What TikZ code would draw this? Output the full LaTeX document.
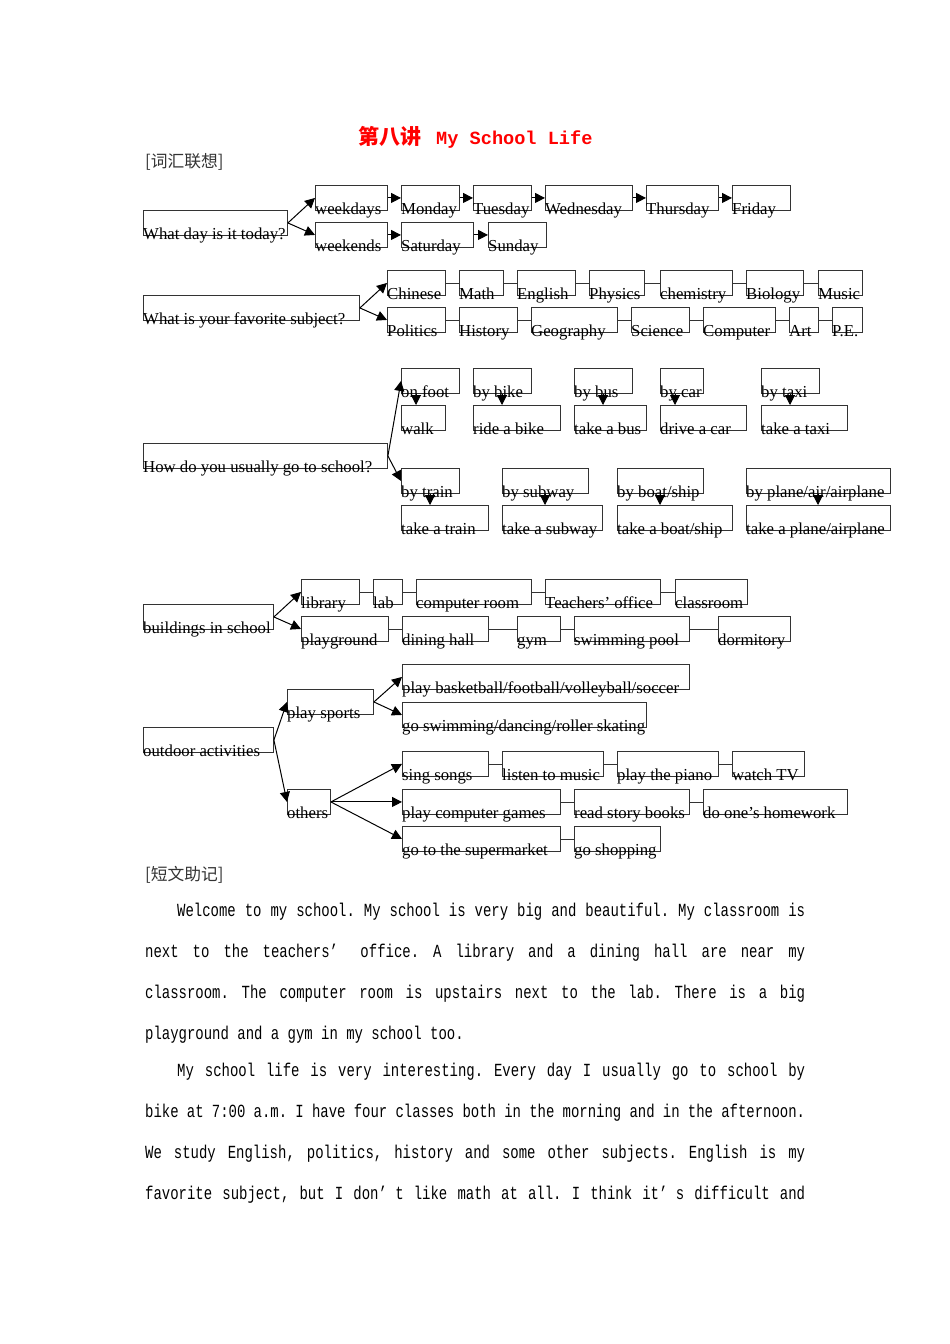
\documentclass[tikz,border=0pt]{standalone}
\usepackage{fontspec}
\setmainfont{Liberation Serif}
\newfontfamily\cjkfont{Noto Sans CJK SC}
\newfontfamily\titlemono{Liberation Mono}
\newfontfamily\paramono[FakeStretch=0.755]{Liberation Mono}
\usepackage{tikz}
\usetikzlibrary{arrows.meta}
\definecolor{titlered}{HTML}{FF0000}
\definecolor{boxline}{HTML}{333333}
\newcommand\boxfont{\fontsize{16.76}{20}\selectfont}
\newcommand\parafont{\paramono\fontsize{18.5}{22}\selectfont\frenchspacing\spaceskip=8.38pt plus 1fil minus 3pt}

\begin{document}
\begin{tikzpicture}[x=1pt, y=-1pt,
    wbox/.style={draw=boxline, line width=0.9pt, anchor=north west, inner sep=0pt, minimum height=25pt, minimum width=#1pt},
    lbl/.style={anchor=base west, inner sep=0pt, yshift=-4pt, font=\boxfont},
    wd/.style 2 args={wbox=#1, label={[lbl]south west:#2}},
    arr/.style={-{Triangle[length=10pt, width=10pt]}, line width=1pt},
    link/.style={draw=boxline, line width=0.9pt},
    heading/.style={anchor=base west, inner sep=0pt, font=\cjkfont\fontsize{16.76}{20}\selectfont, text=black!80},
    para/.style={anchor=base west, inner sep=0pt, font=\parafont}
]
    \useasboundingbox (0,0) rectangle (950,1344);

    % title and heading
    \node[anchor=base west, inner sep=0pt, text=titlered, font=\cjkfont\bfseries\fontsize{21}{24}\selectfont] (titlecn) at (358,144) {第八讲};
    \node[anchor=base west, inner sep=0pt, text=titlered, font=\titlemono\bfseries\fontsize{18.6}{22}\selectfont] (titleen) at (436,144) {My School Life};
    \node[heading] (vocab) at (145,167) {[词汇联想]};

    % days
    \node[wd={144}{What day is it today?}] (qday) at (143,210) {};
    \node[wd={72}{weekdays}] (weekdays) at (315,185) {};
    \node[wd={58}{Monday}] (mon) at (401,185) {};
    \node[wd={58}{Tuesday}] (tue) at (473,185) {};
    \node[wd={87}{Wednesday}] (wed) at (545,185) {};
    \node[wd={72}{Thursday}] (thu) at (646,185) {};
    \node[wd={58}{Friday}] (fri) at (732,185) {};
    \node[wd={72}{weekends}] (weekends) at (315,222) {};
    \node[wd={72}{Saturday}] (sat) at (401,222) {};
    \node[wd={58}{Sunday}] (sun) at (488,222) {};

    \draw[arr] (qday.east) -- (weekdays.west);
    \draw[arr] (qday.east) -- (weekends.west);
    \foreach \a/\b in {weekdays/mon, mon/tue, tue/wed, wed/thu, thu/fri, weekends/sat, sat/sun}
        \draw[arr] (\a) -- (\b);

    % subjects
    \node[wd={216}{What is your favorite subject?}] (qsubj) at (143,295) {};
    \node[wd={58}{Chinese}] (chinese) at (387,270) {};
    \node[wd={44}{Math}] (math) at (459,270) {};
    \node[wd={58}{English}] (english) at (517,270) {};
    \node[wd={55}{Physics}] (physics) at (589,270) {};
    \node[wd={72}{chemistry}] (chemistry) at (660,270) {};
    \node[wd={57}{Biology}] (biology) at (746,270) {};
    \node[wd={44}{Music}] (music) at (818,270) {};
    \node[wd={58}{Politics}] (politics) at (387,307) {};
    \node[wd={58}{History}] (history) at (459,307) {};
    \node[wd={86}{Geography}] (geography) at (531,307) {};
    \node[wd={58}{Science}] (science) at (631,307) {};
    \node[wd={72}{Computer}] (computer) at (703,307) {};
    \node[wd={29}{Art}] (art) at (789,307) {};
    \node[wd={30}{P.E.}] (pe) at (832,307) {};

    \draw[arr] (qsubj.east) -- (chinese.west);
    \draw[arr] (qsubj.east) -- (politics.west);
    \foreach \a/\b in {chinese/math, math/english, english/physics, physics/chemistry, chemistry/biology, biology/music,
                       politics/history, history/geography, geography/science, science/computer, computer/art, art/pe}
        \draw[link] (\a) -- (\b);

    % transport
    \node[wd={244}{How do you usually go to school?}] (qhow) at (143,443) {};
    \node[wd={58}{on foot}] (onfoot) at (401,368) {};
    \node[wd={44}{walk}] (walk) at (401,405) {};
    \node[wd={58}{by bike}] (bybike) at (473,368) {};
    \node[wd={87}{ride a bike}] (ridebike) at (473,405) {};
    \node[wd={58}{by bus}] (bybus) at (574,368) {};
    \node[wd={72}{take a bus}] (takebus) at (574,405) {};
    \node[wd={43}{by car}] (bycar) at (660,368) {};
    \node[wd={86}{drive a car}] (drivecar) at (660,405) {};
    \node[wd={58}{by taxi}] (bytaxi) at (761,368) {};
    \node[wd={86}{take a taxi}] (taketaxi) at (761,405) {};
    \node[wd={58}{by train}] (bytrain) at (401,468) {};
    \node[wd={87}{take a train}] (taketrain) at (401,505) {};
    \node[wd={86}{by subway}] (bysubway) at (502,468) {};
    \node[wd={100}{take a subway}] (takesubway) at (502,505) {};
    \node[wd={86}{by boat/ship}] (byboat) at (617,468) {};
    \node[wd={115}{take a boat/ship}] (takeboat) at (617,505) {};
    \node[wd={144}{by plane/air/airplane}] (byplane) at (746,468) {};
    \node[wd={144}{take a plane/airplane}] (takeplane) at (746,505) {};

    \draw[arr] (qhow.east) -- (onfoot.west);
    \draw[arr] (qhow.east) -- (bytrain.west);
    \foreach \a/\b/\d in {onfoot/walk/15, bybike/ridebike/29, bybus/takebus/29, bycar/drivecar/15, bytaxi/taketaxi/29,
                          bytrain/taketrain/29, bysubway/takesubway/43, byboat/takeboat/43, byplane/takeplane/72}
        \draw[arr] ([xshift=\d pt]\a.south west) -- ([xshift=\d pt]\b.north west);

    % buildings
    \node[wd={130}{buildings in school}] (qbuild) at (143,604) {};
    \node[wd={58}{library}] (library) at (301,579) {};
    \node[wd={29}{lab}] (lab) at (373,579) {};
    \node[wd={115}{computer room}] (comproom) at (416,579) {};
    \node[wd={115}{Teachers’ office}] (teachers) at (545,579) {};
    \node[wd={72}{classroom}] (classroom) at (675,579) {};
    \node[wd={87}{playground}] (playground) at (301,616) {};
    \node[wd={86}{dining hall}] (dining) at (402,616) {};
    \node[wd={43}{gym}] (gym) at (517,616) {};
    \node[wd={115}{swimming pool}] (swimpool) at (574,616) {};
    \node[wd={72}{dormitory}] (dormitory) at (718,616) {};

    \draw[arr] (qbuild.east) -- (library.west);
    \draw[arr] (qbuild.east) -- (playground.west);
    \foreach \a/\b in {library/lab, lab/comproom, comproom/teachers, teachers/classroom,
                       playground/dining, dining/gym, gym/swimpool, swimpool/dormitory}
        \draw[link] (\a) -- (\b);

    % outdoor activities
    \node[wd={130}{outdoor activities}] (qout) at (143,727) {};
    \node[wd={86}{play sports}] (sports) at (287,689) {};
    \node[wd={287}{play basketball/football/volleyball/soccer}] (ball) at (402,664) {};
    \node[wd={244}{go swimming/dancing/roller skating}] (swim) at (402,702) {};
    \node[wd={43}{others}] (others) at (287,789) {};
    \node[wd={86}{sing songs}] (sing) at (402,751) {};
    \node[wd={101}{listen to music}] (listen) at (502,751) {};
    \node[wd={101}{play the piano}] (piano) at (617,751) {};
    \node[wd={72}{watch TV}] (tv) at (732,751) {};
    \node[wd={158}{play computer games}] (games) at (402,789) {};
    \node[wd={115}{read story books}] (story) at (574,789) {};
    \node[wd={144}{do one’s homework}] (homework) at (703,789) {};
    \node[wd={158}{go to the supermarket}] (market) at (402,826) {};
    \node[wd={86}{go shopping}] (shopping) at (574,826) {};

    \draw[arr] (qout.east) -- (sports.west);
    \draw[arr] (qout.east) -- (others.west);
    \draw[arr] (sports.east) -- (ball.west);
    \draw[arr] (sports.east) -- (swim.west);
    \draw[arr] (others.east) -- (sing.west);
    \draw[arr] (others.east) -- (games.west);
    \draw[arr] (others.east) -- (market.west);
    \foreach \a/\b in {sing/listen, listen/piano, piano/tv, games/story, story/homework, market/shopping}
        \draw[link] (\a) -- (\b);

    % short text
    \node[heading] (essay) at (145,880) {[短文助记]};
    \node[para] (l1) at (177,916) {\makebox[628pt][s]{Welcome to my school. My school is very big and beautiful. My classroom is}};
    \node[para] (l2) at (145,957) {\makebox[660pt][s]{next to the teachers’\hspace{8.38pt} office. A library and a dining hall are near my}};
    \node[para] (l3) at (145,998) {\makebox[660pt][s]{classroom. The computer room is upstairs next to the lab. There is a big}};
    \node[para] (l4) at (145,1039) {playground and a gym in my school too.};
    \node[para] (l5) at (177,1076) {\makebox[628pt][s]{My school life is very interesting. Every day I usually go to school by}};
    \node[para] (l6) at (145,1117) {\makebox[660pt][s]{bike at 7:00 a.m. I have four classes both in the morning and in the afternoon.}};
    \node[para] (l7) at (145,1158) {\makebox[660pt][s]{We study English, politics, history and some other subjects. English is my}};
    \node[para] (l8) at (145,1199) {\makebox[660pt][s]{favorite subject, but I don’\hspace{8.38pt}t like math at all. I think it’\hspace{8.38pt}s difficult and}};
\end{tikzpicture}
\end{document}
